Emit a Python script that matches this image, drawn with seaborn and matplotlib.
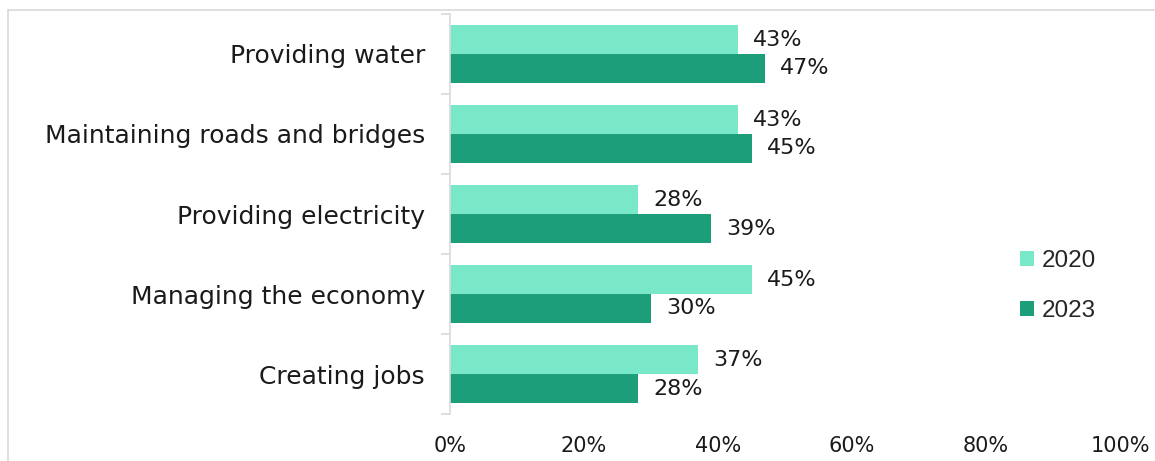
import matplotlib
matplotlib.use("Agg")
import matplotlib.pyplot as plt
from matplotlib.lines import Line2D
from matplotlib.ticker import FixedLocator
import seaborn as sns
import pandas as pd

categories = ["Providing water", "Maintaining roads and bridges", "Providing electricity",
              "Managing the economy", "Creating jobs"]
years = ["2020", "2023"]
values_2020 = [43, 43, 28, 45, 37]
values_2023 = [47, 45, 39, 30, 28]
x_ticks = [0, 20, 40, 60, 80, 100]
x_tick_labels = ["0%", "20%", "40%", "60%", "80%", "100%"]
colors = ["#78E8C9", "#1D9E7B"]

df = pd.DataFrame({
    "category": categories * 2,
    "year": [years[0]] * len(categories) + [years[1]] * len(categories),
    "value": values_2020 + values_2023,
})

sns.set_theme(style="white")
plt.rcParams["font.family"] = ["DejaVu Sans"]

fig = plt.figure(figsize=(11.55, 4.61), dpi=100)
ax = fig.add_axes([450 / 1155, 1 - 414 / 461, (1120 - 450) / 1155, 400 / 461])

sns.barplot(data=df, y="category", x="value", hue="year", order=categories,
            hue_order=years, palette=colors, orient="h", width=0.725,
            saturation=1, linewidth=0, ax=ax, legend=True)

for c in ax.containers:
    ax.bar_label(c, labels=[f"{v:.0f}%" for v in c.datavalues], padding=11,
                 fontsize=16, color="#1a1a1a")

ax.set_xlim(0, 100)
ax.set_ylim(len(categories) - 0.5, -0.5)
ax.set_xticks(x_ticks)
ax.set_xticklabels(x_tick_labels, fontsize=15, color="#1a1a1a")
ax.tick_params(axis="x", length=0, pad=16)
ax.tick_params(axis="y", which="major", length=0, pad=18, labelsize=18, labelcolor="#1a1a1a")
ax.yaxis.set_minor_locator(FixedLocator([i - 0.5 for i in range(len(categories) + 1)]))
ax.tick_params(axis="y", which="minor", length=6.5, width=1.2, color="#D9D9D9", left=True)
ax.set_xlabel("")
ax.set_ylabel("")
for s in ["top", "right", "bottom"]:
    ax.spines[s].set_visible(False)
ax.spines["left"].set_color("#D9D9D9")
ax.spines["left"].set_linewidth(1.2)

handles, labels = ax.get_legend_handles_labels()
ax.legend_.remove()
fig.legend(handles, labels, loc="center left", bbox_to_anchor=(998 / 1155, 1 - 286 / 461),
           frameon=False, handlelength=0.6, handleheight=0.6, handletextpad=0.3,
           labelspacing=1.15, prop={"family": "Liberation Sans", "size": 17.5})

border_x = 8 / 1155
border_y = 1 - 10 / 461
fig.add_artist(Line2D([border_x, 1.0], [border_y, border_y], transform=fig.transFigure,
                      color="#D9D9D9", linewidth=1.2, zorder=-1))
fig.add_artist(Line2D([border_x, border_x], [0.0, border_y], transform=fig.transFigure,
                      color="#D9D9D9", linewidth=1.2, zorder=-1))

fig.savefig("out.png", dpi=100)
